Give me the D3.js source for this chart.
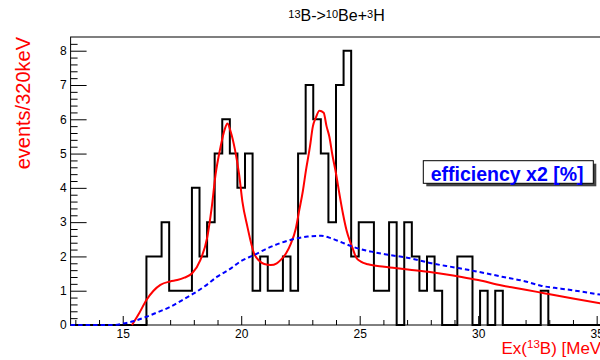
<!DOCTYPE html>
<html><head><meta charset="utf-8">
<script src="https://cdn.jsdelivr.net/npm/d3@7"></script>
<style>html,body{margin:0;padding:0;background:#fff;} svg{display:block}</style>
</head><body><svg id="c" width="600" height="360"></svg>
<script>
// ---- data ----
const binLow = 12.8;
const binWidth = 0.32;
const counts = [0,0,0,0,0,0,0,0,0,0,
  2,2,3,1,1,1,4,2,3,5,
  6,5,4,5,1,2,1,1,2,1,
  5,7,6,5,3,7,8,2,3,3,
  1,1,3,0,3,2,1,2,1,0,
  0,2,2,0,1,0,1,0,0,0,
  0,0,1,0,0,0,0,0,0,0];
const fitX = [15.39,15.7,16.0,16.3,16.59,17.0,17.3,17.6,17.93,18.28,18.57,18.75,18.92,19.13,19.3,19.42,19.55,19.74,19.91,20.05,20.26,20.54,20.75,20.97,21.25,21.5,21.67,21.9,22.1,22.3,22.45,22.6,22.73,22.9,23.02,23.15,23.3,23.48,23.6,23.72,23.85,24.0,24.15,24.29,24.45,24.57,24.7,24.85,25.05,25.35,26.04,26.76,27.89,28.6,29.3,30.0,31.0,32.0,32.83,34.0,35.2];
const fitY = [0,0.35,0.73,1.0,1.17,1.27,1.31,1.38,1.51,1.9,2.57,3.4,4.4,5.2,5.7,5.88,5.65,5.1,4.4,3.6,2.87,2.09,1.88,1.78,1.75,1.8,1.9,2.1,2.38,2.8,3.35,3.9,4.5,5.2,5.78,6.05,6.25,6.19,5.8,5.49,4.95,4.42,3.8,3.26,2.75,2.48,2.24,1.97,1.85,1.77,1.7,1.64,1.55,1.48,1.40,1.31,1.15,1.03,0.92,0.77,0.63];
const effX = [12.8,14.6,15.0,15.39,16.0,16.5,17.01,17.5,18.0,18.5,18.99,19.5,19.98,20.54,21.0,21.5,22.24,22.8,23.37,23.79,24.2,24.64,25.0,25.49,26.2,27.18,28.03,29.0,29.87,31.0,32.0,32.68,33.5,34.3,35.2];
const effY = [0,0.0,0.04,0.1,0.24,0.38,0.53,0.72,0.92,1.15,1.41,1.62,1.86,2.04,2.2,2.35,2.51,2.58,2.6,2.53,2.42,2.3,2.22,2.14,2.05,1.94,1.8,1.68,1.57,1.41,1.27,1.14,1.06,0.98,0.88];
const xMajorTicks = [15,20,25,30,35];
const xMinorTicks = [13,14,16,17,18,19,21,22,23,24,26,27,28,29,31,32,33,34];
const yMajorTicks = [0,1,2,3,4,5,6,7,8];
const yMinorTicks = [0.2,0.4,0.6,0.8,1.2,1.4,1.6,1.8,2.2,2.4,2.6,2.8,3.2,3.4,3.6,3.8,4.2,4.4,4.6,4.8,5.2,5.4,5.6,5.8,6.2,6.4,6.6,6.8,7.2,7.4,7.6,7.8,8.2];
const titleParts = [{t:"13",sup:true},{t:"B->"},{t:"10",sup:true},{t:"Be+"},{t:"3",sup:true},{t:"H"}];
const xTitleParts = [{t:"Ex("},{t:"13",sup:true},{t:"B) [MeV]"}];
const yTitle = "events/320keV";
const legendLabel = "efficiency x2 [%]";

// ---- drawing ----
const FONT = "'Liberation Sans', Arial, Helvetica, sans-serif";
const svg = d3.select("#c");
const x = d3.scaleLinear().domain([12.8, 35.2]).range([70.6, 601.4]);
const y = d3.scaleLinear().domain([0, 8.4]).range([325, 37]);

// histogram
const histPts = counts.map((c,i)=>[binLow + i*binWidth, c]);
histPts.push([binLow + counts.length*binWidth, counts[counts.length-1]]);
const histLine = d3.line().x(d=>x(d[0])).y(d=>y(d[1])).curve(d3.curveStepAfter);
svg.append("path").attr("d", histLine(histPts))
  .attr("fill","none").attr("stroke","#000").attr("stroke-width",2);

// axes
function styleAxis(g){
  g.select(".domain").remove();
  g.selectAll(".tick line").attr("stroke","#000").attr("stroke-width",1);
  g.selectAll(".tick text").attr("fill","#000").style("font-family",FONT).style("font-size","12px");
}
svg.append("g").attr("transform","translate(0,325)")
  .call(d3.axisBottom(x).tickValues(xMinorTicks).tickSize(-5).tickFormat(""))
  .call(styleAxis);
svg.append("g").attr("transform","translate(0,325)")
  .call(d3.axisBottom(x).tickValues(xMajorTicks).tickSize(-9).tickPadding(4).tickFormat(d3.format("d")))
  .call(styleAxis);
svg.append("g").attr("transform","translate(70.6,0)")
  .call(d3.axisLeft(y).tickValues(yMinorTicks).tickSize(-7).tickFormat(""))
  .call(styleAxis);
svg.append("g").attr("transform","translate(70.6,0)")
  .call(d3.axisLeft(y).tickValues(yMajorTicks).tickSize(-16).tickPadding(4).tickFormat(d3.format("d")))
  .call(styleAxis);

// frame
svg.append("rect").attr("x",x(12.8)).attr("y",y(8.4))
  .attr("width",x(35.2)-x(12.8)).attr("height",y(0)-y(8.4))
  .attr("fill","none").attr("stroke","#000").attr("stroke-width",1);

// fit curve
const lineGen = d3.line().x(d=>x(d[0])).y(d=>y(d[1])).curve(d3.curveMonotoneX);
svg.append("path").attr("d", lineGen(fitX.map((v,i)=>[v,fitY[i]])))
  .attr("fill","none").attr("stroke","#ff0000").attr("stroke-width",2);

// efficiency
svg.append("path").attr("d", lineGen(effX.map((v,i)=>[v,effY[i]])))
  .attr("fill","none").attr("stroke","#0000ff").attr("stroke-width",2)
  .attr("stroke-dasharray","4.5,3");

// legend box
svg.append("rect").attr("x",426.3).attr("y",163.7).attr("width",170).attr("height",22.6).attr("fill","#444");
svg.append("rect").attr("x",423.3).attr("y",160.7).attr("width",170).attr("height",22.6)
  .attr("fill","#fff").attr("stroke","#000").attr("stroke-width",1);
svg.append("text").attr("x",430.7).attr("y",180.5).text(legendLabel)
  .attr("fill","#0000ff").style("font-family",FONT).style("font-weight","bold").style("font-size","19.5px");

// helper for super-scripted text
function richText(sel, parts, size, supSize, rise){
  let cur = 0;
  parts.forEach(p=>{
    const target = p.sup ? -rise : 0;
    sel.append("tspan").attr("dy", target-cur).style("font-size",(p.sup?supSize:size)+"px").text(p.t);
    cur = target;
  });
}
// title
const t = svg.append("text").attr("x",336.5).attr("y",20.7).attr("text-anchor","middle")
  .attr("fill","#000").style("font-family",FONT);
richText(t, titleParts, 16, 11, 3);

// x title
const xt = svg.append("text").attr("x",501.5).attr("y",354.3)
  .attr("fill","#ff0000").style("font-family",FONT);
richText(xt, xTitleParts, 17, 11.5, 6);

// y title
svg.append("text").attr("transform","translate(30,37) rotate(-90)")
  .attr("text-anchor","end").attr("fill","#ff0000")
  .style("font-family",FONT).style("font-size","20px").text(yTitle);
</script></body></html>
